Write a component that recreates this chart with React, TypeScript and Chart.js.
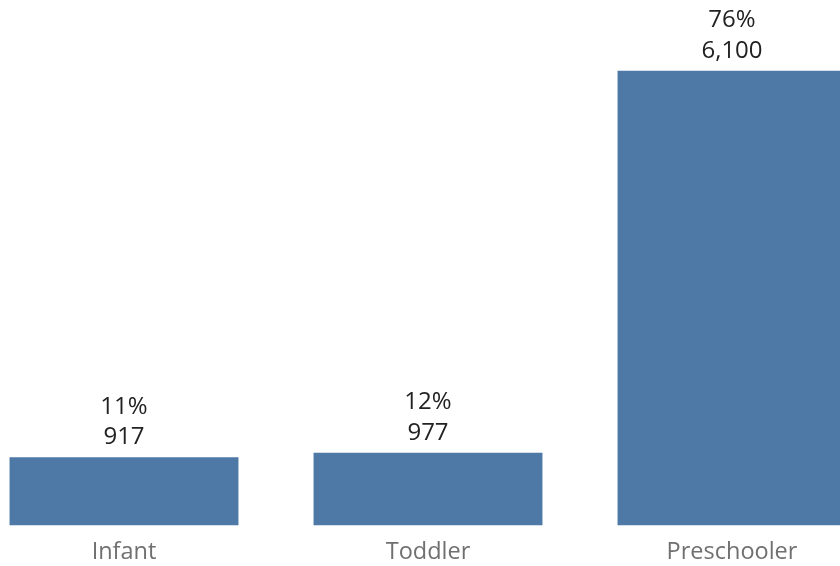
import React, { useEffect, useRef } from "react";
import { Chart, registerables } from "chart.js";

Chart.register(...registerables);

const categories = ["Infant", "Toddler", "Preschooler"];
const counts = [917, 977, 6100];
const percents = ["11%", "12%", "76%"];

const labelPlugin = {
  id: "labelPlugin",
  afterDatasetsDraw(chart: any) {
    const ctx = chart.ctx;
    const meta = chart.getDatasetMeta(0);
    ctx.save();
    ctx.textAlign = "center";
    ctx.textBaseline = "alphabetic";
    meta.data.forEach((bar: any, i: number) => {
      ctx.fillStyle = "#222222";
      ctx.font = "24px 'Open Sans'";
      ctx.fillText(counts[i].toLocaleString("en-US"), bar.x, bar.y - 13);
      ctx.fillText(percents[i], bar.x, bar.y - 43.5);
      ctx.fillStyle = "#707070";
      ctx.font = "23.5px 'Open Sans'";
      ctx.fillText(categories[i], bar.x, chart.chartArea.bottom + 33.5);
    });
    ctx.restore();
  },
};

export default function App() {
  const ref = useRef<HTMLCanvasElement>(null);
  useEffect(() => {
    if (!ref.current) return;
    const chart = new Chart(ref.current, {
      type: "bar",
      data: {
        labels: categories,
        datasets: [
          {
            data: counts,
            backgroundColor: "#4e79a7",
            barPercentage: 0.753,
            categoryPercentage: 1,
          },
        ],
      },
      options: {
        animation: false,
        responsive: false,
        maintainAspectRatio: false,
        layout: { padding: { top: 0, bottom: 40.5, left: 0, right: 0 } },
        plugins: { legend: { display: false }, tooltip: { enabled: false } },
        scales: {
          x: { display: false },
          y: { display: false, min: 0, max: 7050 },
        },
      },
      plugins: [labelPlugin],
    });
    return () => chart.destroy();
  }, []);
  return (
    <div
      style={{
        position: "fixed",
        left: 0,
        top: 0,
        width: 840,
        height: 566,
        overflow: "hidden",
        background: "#ffffff",
      }}
    >
      <canvas
        ref={ref}
        width={912}
        height={566}
        style={{ position: "absolute", left: -28, top: 0, width: 912, height: 566 }}
      />
    </div>
  );
}
